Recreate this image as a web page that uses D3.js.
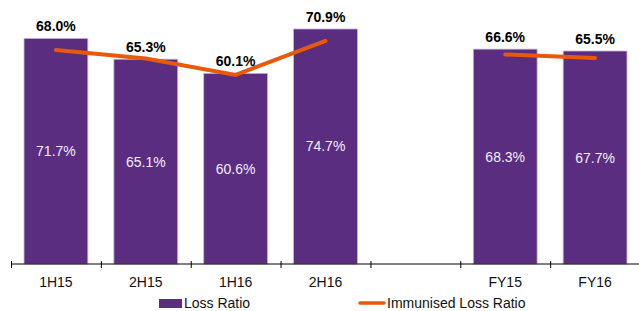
<!DOCTYPE html>
<html>
<head>
<meta charset="utf-8">
<script src="https://cdn.jsdelivr.net/npm/d3@7"></script>
<style>
  body { margin: 0; background: #fff; }
  svg { display: block; font-family: "Liberation Sans", Arial, sans-serif; }
</style>
</head>
<body>
<div class="chart"></div>
<script>
var categories = ["1H15", "2H15", "1H16", "2H16", "", "FY15", "FY16"];
var lossRatio = [71.7, 65.1, 60.6, 74.7, null, 68.3, 67.7];
var immunisedRatio = [68.0, 65.3, 60.1, 70.9, null, 66.6, 65.5];
var legendLabels = ["Loss Ratio", "Immunised Loss Ratio"];

var width = 639, height = 311;
var baseY = 264;
var purple = "#5a2d80", orange = "#e8590c";

var svg = d3.select(".chart").append("svg")
  .attr("width", width)
  .attr("height", height);

var x = d3.scaleBand()
  .domain(categories)
  .range([11, 640])
  .paddingInner(0.29)
  .paddingOuter(0.145);

var y = d3.scaleLinear()
  .domain([0, 80])
  .range([baseY, baseY - 80 * 3.146]);

var rows = categories.map(function(c, i) {
  return { cat: c, loss: lossRatio[i], imm: immunisedRatio[i] };
});
var filled = rows.filter(function(d) { return d.loss != null; });

// bars
svg.selectAll("rect.bar")
  .data(filled)
  .enter()
  .append("rect")
  .attr("class", "bar")
  .attr("x", function(d) { return x(d.cat); })
  .attr("y", function(d) { return y(d.loss); })
  .attr("width", x.bandwidth())
  .attr("height", function(d) { return baseY - y(d.loss); })
  .attr("fill", purple)
  .attr("stroke", "#c3b3dc")
  .attr("stroke-width", 0.8);

// inner labels
svg.selectAll("text.inner")
  .data(filled)
  .enter()
  .append("text")
  .attr("class", "inner")
  .attr("x", function(d) { return x(d.cat) + x.bandwidth() / 2; })
  .attr("y", function(d) { return (y(d.loss) + baseY) / 2 + 5; })
  .attr("text-anchor", "middle")
  .attr("font-size", 14)
  .attr("fill", "#f2eef7")
  .text(function(d) { return d.loss.toFixed(1) + "%"; });

// axis
var bounds = d3.range(categories.length + 1).map(function(i) {
  return x.range()[0] + i * x.step();
});
svg.append("line")
  .attr("x1", 11).attr("x2", width)
  .attr("y1", baseY).attr("y2", baseY)
  .attr("stroke", "#000").attr("stroke-width", 1);
svg.selectAll("line.tick")
  .data(bounds)
  .enter()
  .append("line")
  .attr("class", "tick")
  .attr("x1", function(d) { return d + 0.5; })
  .attr("x2", function(d) { return d + 0.5; })
  .attr("y1", baseY - 3).attr("y2", baseY + 4)
  .attr("stroke", "#000").attr("stroke-width", 1);

svg.selectAll("text.cat")
  .data(categories)
  .enter()
  .append("text")
  .attr("class", "cat")
  .attr("x", function(d) { return x(d) + x.bandwidth() / 2; })
  .attr("y", 287)
  .attr("text-anchor", "middle")
  .attr("font-size", 14)
  .attr("fill", "#111")
  .text(function(d) { return d; });

// immunised line, broken at the empty slot
var line = d3.line()
  .defined(function(d) { return d.imm != null; })
  .x(function(d) { return x(d.cat) + x.bandwidth() / 2; })
  .y(function(d) { return y(d.imm); });

svg.append("path")
  .datum(rows)
  .attr("d", line)
  .attr("fill", "none")
  .attr("stroke", orange)
  .attr("stroke-width", 4)
  .attr("stroke-linecap", "round")
  .attr("stroke-linejoin", "miter");

// top labels
svg.selectAll("text.top")
  .data(filled)
  .enter()
  .append("text")
  .attr("class", "top")
  .attr("x", function(d) { return x(d.cat) + x.bandwidth() / 2; })
  .attr("y", function(d) { return Math.min(y(d.loss), y(d.imm)) - 7; })
  .attr("text-anchor", "middle")
  .attr("font-size", 14)
  .attr("font-weight", "bold")
  .attr("fill", "#000")
  .text(function(d) { return d.imm.toFixed(1) + "%"; });

// legend
svg.append("rect")
  .attr("x", 159).attr("y", 299)
  .attr("width", 23).attr("height", 9)
  .attr("fill", purple);
svg.append("text")
  .attr("x", 184).attr("y", 308)
  .attr("font-size", 14).attr("fill", "#111")
  .text(legendLabels[0]);
svg.append("line")
  .attr("x1", 360).attr("x2", 384)
  .attr("y1", 303).attr("y2", 303)
  .attr("stroke", orange).attr("stroke-width", 3.5)
  .attr("stroke-linecap", "round");
svg.append("text")
  .attr("x", 387).attr("y", 308)
  .attr("font-size", 14).attr("fill", "#111")
  .text(legendLabels[1]);
</script>
</body>
</html>
